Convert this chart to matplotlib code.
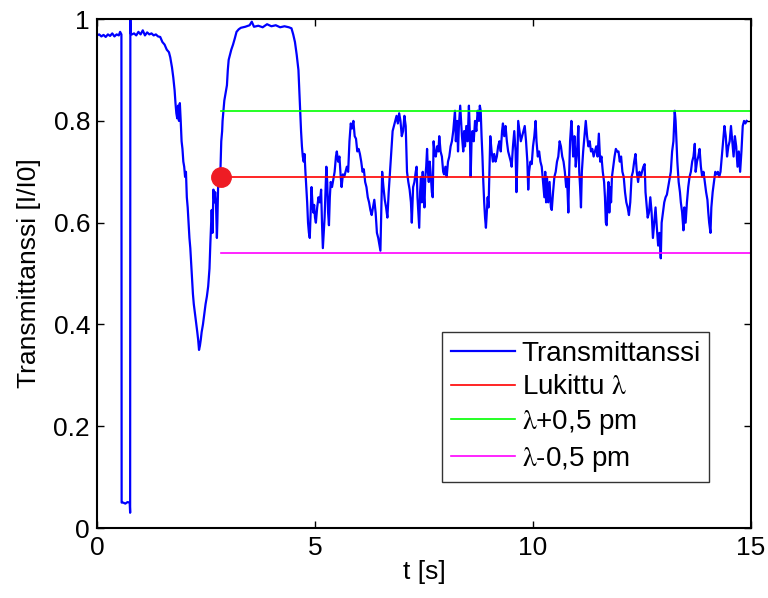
import matplotlib
matplotlib.use("Agg")
import matplotlib.pyplot as plt

plt.rcParams['font.family'] = ['Liberation Sans', 'DejaVu Sans']
plt.rcParams['mathtext.fontset'] = 'stix'

t_vals = [
    0.00, 0.05, 0.10, 0.15, 0.20, 0.25, 0.30, 0.35, 0.40, 0.45, 0.50, 0.53, 0.56,
    0.565, 0.60, 0.65, 0.70, 0.75, 0.76, 0.765, 0.77,
    0.80, 0.85, 0.90, 0.95, 1.00, 1.05, 1.10, 1.15, 1.20, 1.25, 1.30, 1.35, 1.40, 1.45,
    1.50, 1.55, 1.60, 1.65, 1.68, 1.72, 1.75, 1.78, 1.80, 1.82, 1.84, 1.86, 1.88, 1.90,
    1.92, 1.94, 1.96, 1.98, 2.00, 2.02, 2.04, 2.06, 2.08, 2.10, 2.12, 2.14, 2.16, 2.18,
    2.20, 2.22, 2.25, 2.28, 2.30, 2.32, 2.34, 2.36, 2.38, 2.40, 2.43, 2.46, 2.49, 2.52,
    2.55, 2.58, 2.60, 2.62, 2.63, 2.65, 2.67, 2.69, 2.71, 2.73, 2.75, 2.76, 2.78, 2.80,
    2.83, 2.85, 2.87, 2.88, 2.90, 2.92, 2.94, 2.96, 2.98, 3.00, 3.02, 3.05, 3.08, 3.12,
    3.16, 3.20, 3.25, 3.30, 3.40, 3.50, 3.55, 3.60, 3.70, 3.80, 3.90, 4.00, 4.10, 4.20,
    4.30, 4.40, 4.46, 4.50, 4.54, 4.58, 4.62, 4.64, 4.66, 4.68, 4.70, 4.72, 4.74, 4.76,
    4.78, 4.80, 4.82, 4.84, 4.86, 4.88, 4.90, 4.92, 4.94, 4.96, 4.98, 5.00, 5.02, 5.05,
    5.08, 5.11, 5.14, 5.16, 5.18, 5.20, 5.22, 5.24, 5.26, 5.28, 5.30, 5.32, 5.34, 5.36,
    5.39, 5.42, 5.45, 5.48, 5.50, 5.53, 5.56, 5.59, 5.61, 5.64, 5.67, 5.70, 5.73, 5.76,
    5.79, 5.82, 5.85, 5.88, 5.91, 5.94, 5.97, 6.00, 6.03, 6.06, 6.09, 6.12, 6.15, 6.18,
    6.21, 6.24, 6.27, 6.30, 6.33, 6.36, 6.39, 6.42, 6.45, 6.48, 6.50, 6.52, 6.54, 6.57,
    6.60, 6.63, 6.66, 6.69, 6.72, 6.75, 6.78, 6.81, 6.84, 6.87, 6.90, 6.93, 6.96, 6.99,
    7.02, 7.05, 7.08, 7.11, 7.14, 7.17, 7.20, 7.22, 7.25, 7.28, 7.31, 7.33, 7.35, 7.37,
    7.39, 7.41, 7.43, 7.45, 7.47, 7.49, 7.51, 7.53, 7.55, 7.57, 7.59, 7.61, 7.63, 7.65,
    7.68, 7.70, 7.72, 7.74, 7.77, 7.80, 7.83, 7.85, 7.88, 7.91, 7.94, 7.96, 7.99, 8.02,
    8.05, 8.08, 8.11, 8.14, 8.17, 8.19, 8.21, 8.23, 8.26, 8.28, 8.30, 8.33, 8.35, 8.37,
    8.40, 8.42, 8.44, 8.47, 8.50, 8.53, 8.55, 8.57, 8.59, 8.61, 8.64, 8.67, 8.70, 8.73,
    8.76, 8.78, 8.80, 8.82, 8.84, 8.86, 8.88, 8.90, 8.92, 8.94, 8.96, 8.98, 9.00, 9.02,
    9.05, 9.08, 9.11, 9.14, 9.17, 9.20, 9.23, 9.26, 9.29, 9.31, 9.34, 9.37, 9.40, 9.43,
    9.46, 9.49, 9.51, 9.54, 9.57, 9.60, 9.62, 9.64, 9.66, 9.69, 9.72, 9.75, 9.78, 9.81,
    9.84, 9.87, 9.89, 9.91, 9.94, 9.97, 10.00, 10.03, 10.06, 10.08, 10.11, 10.14, 10.17,
    10.20, 10.23, 10.26, 10.28, 10.30, 10.32, 10.35, 10.38, 10.41, 10.43, 10.46, 10.49,
    10.52, 10.55, 10.58, 10.61, 10.64, 10.67, 10.70, 10.73, 10.76, 10.78, 10.81, 10.83,
    10.85, 10.88, 10.90, 10.92, 10.95, 10.98, 11.01, 11.04, 11.06, 11.08, 11.10, 11.12,
    11.15, 11.18, 11.21, 11.24, 11.27, 11.30, 11.33, 11.36, 11.39, 11.42, 11.45, 11.48,
    11.51, 11.54, 11.57, 11.60, 11.63, 11.65, 11.67, 11.69, 11.71, 11.73, 11.75, 11.77,
    11.79, 11.81, 11.84, 11.87, 11.90, 11.93, 11.96, 11.99, 12.02, 12.05, 12.08, 12.11,
    12.14, 12.17, 12.20, 12.23, 12.26, 12.29, 12.32, 12.35, 12.38, 12.41, 12.44, 12.47,
    12.50, 12.53, 12.56, 12.58, 12.60, 12.63, 12.66, 12.69, 12.72, 12.75, 12.78, 12.81,
    12.84, 12.87, 12.90, 12.93, 12.95, 12.98, 13.01, 13.04, 13.07, 13.10, 13.13, 13.16,
    13.19, 13.22, 13.25, 13.27, 13.29, 13.31, 13.34, 13.37, 13.39, 13.42, 13.45, 13.47,
    13.50, 13.53, 13.56, 13.59, 13.62, 13.65, 13.68, 13.71, 13.73, 13.76, 13.79, 13.82,
    13.85, 13.88, 13.91, 13.94, 13.97, 14.00, 14.02, 14.04, 14.07, 14.09, 14.12, 14.15,
    14.18, 14.21, 14.24, 14.27, 14.30, 14.33, 14.36, 14.39, 14.42, 14.45, 14.48, 14.51,
    14.54, 14.57, 14.60, 14.63, 14.66, 14.69, 14.72, 14.75, 14.78, 14.81, 14.84, 14.87,
    14.90,
]
trans_vals = [
    0.968, 0.970, 0.966, 0.969, 0.965, 0.970, 0.967, 0.972, 0.966, 0.970, 0.968, 0.975, 0.970,
    0.050, 0.050, 0.048, 0.051, 0.050, 0.030, 1.000, 0.972,
    0.970, 0.972, 0.968, 0.975, 0.970, 0.978, 0.968, 0.974, 0.970, 0.972, 0.968, 0.970, 0.966, 0.965,
    0.955, 0.950, 0.940, 0.935, 0.925, 0.905, 0.885, 0.860, 0.835, 0.815, 0.805, 0.830, 0.800, 0.835,
    0.800, 0.760, 0.745, 0.720, 0.710, 0.690, 0.700, 0.650, 0.630, 0.600, 0.570, 0.550, 0.520, 0.490,
    0.460, 0.440, 0.420, 0.400, 0.385, 0.370, 0.350, 0.358, 0.370, 0.385, 0.400, 0.420, 0.440, 0.455,
    0.475, 0.510, 0.560, 0.600, 0.625, 0.580, 0.665, 0.640, 0.660, 0.635, 0.570, 0.600, 0.680, 0.700,
    0.700, 0.760, 0.780, 0.800, 0.820, 0.840, 0.850, 0.860, 0.870, 0.900, 0.920, 0.930, 0.940, 0.950,
    0.962, 0.975, 0.980, 0.983, 0.985, 0.988, 0.995, 0.985, 0.987, 0.984, 0.990, 0.986, 0.988, 0.984,
    0.986, 0.984, 0.982, 0.970, 0.955, 0.930, 0.900, 0.860, 0.820, 0.780, 0.750, 0.730, 0.720, 0.735,
    0.700, 0.670, 0.640, 0.600, 0.580, 0.570, 0.620, 0.670, 0.640, 0.620, 0.635, 0.610, 0.600, 0.630,
    0.650, 0.640, 0.665, 0.600, 0.550, 0.580, 0.610, 0.660, 0.710, 0.680, 0.620, 0.595, 0.650, 0.680,
    0.670, 0.685, 0.700, 0.730, 0.740, 0.720, 0.730, 0.690, 0.670, 0.695, 0.690, 0.700, 0.710, 0.700,
    0.760, 0.795, 0.785, 0.800, 0.770, 0.765, 0.740, 0.745, 0.735, 0.720, 0.700, 0.705, 0.680, 0.670,
    0.650, 0.640, 0.625, 0.615, 0.630, 0.645, 0.620, 0.580, 0.570, 0.555, 0.545, 0.620, 0.700, 0.670,
    0.645, 0.630, 0.610, 0.660, 0.700, 0.740, 0.780, 0.790, 0.800, 0.810, 0.795, 0.815, 0.800, 0.770,
    0.780, 0.810, 0.790, 0.700, 0.680, 0.665, 0.640, 0.600, 0.670, 0.680, 0.700, 0.710, 0.650, 0.620,
    0.590, 0.660, 0.690, 0.640, 0.700, 0.660, 0.630, 0.690, 0.710, 0.745, 0.700, 0.680, 0.720, 0.700,
    0.660, 0.650, 0.760, 0.740, 0.730, 0.750, 0.740, 0.770, 0.740, 0.730, 0.700, 0.695, 0.710, 0.690,
    0.720, 0.730, 0.750, 0.760, 0.780, 0.800, 0.820, 0.760, 0.800, 0.740, 0.790, 0.830, 0.800, 0.770,
    0.740, 0.780, 0.750, 0.790, 0.760, 0.830, 0.780, 0.690, 0.760, 0.780, 0.760, 0.800, 0.780, 0.820,
    0.800, 0.830, 0.820, 0.770, 0.730, 0.680, 0.640, 0.610, 0.590, 0.620, 0.650, 0.630, 0.700, 0.770,
    0.740, 0.720, 0.735, 0.720, 0.730, 0.750, 0.760, 0.740, 0.780, 0.795, 0.770, 0.790, 0.760, 0.740,
    0.730, 0.720, 0.710, 0.750, 0.780, 0.740, 0.660, 0.720, 0.800, 0.780, 0.760, 0.770, 0.780, 0.790,
    0.760, 0.720, 0.665, 0.700, 0.720, 0.715, 0.750, 0.770, 0.800, 0.760, 0.730, 0.740, 0.720,
    0.710, 0.680, 0.650, 0.700, 0.640, 0.690, 0.640, 0.680, 0.630, 0.625, 0.660, 0.690,
    0.700, 0.720, 0.730, 0.760, 0.750, 0.730, 0.720, 0.700, 0.670, 0.690, 0.620, 0.700,
    0.760, 0.800, 0.770, 0.730, 0.770, 0.710, 0.740, 0.790, 0.700, 0.670, 0.630, 0.700,
    0.740, 0.770, 0.800, 0.770, 0.750, 0.760, 0.740, 0.745, 0.730, 0.740, 0.750, 0.730,
    0.775, 0.720, 0.730, 0.700, 0.680, 0.650, 0.600, 0.595, 0.650, 0.680, 0.620, 0.670,
    0.640, 0.690, 0.710, 0.730, 0.745, 0.740, 0.740, 0.720, 0.730, 0.700, 0.690, 0.660,
    0.640, 0.630, 0.615, 0.640, 0.690, 0.700, 0.720, 0.735, 0.700, 0.680, 0.700, 0.690,
    0.700, 0.710, 0.715, 0.660, 0.640, 0.610, 0.620, 0.650, 0.620, 0.570, 0.600, 0.630,
    0.590, 0.555, 0.580, 0.530, 0.600, 0.620, 0.640, 0.650, 0.655, 0.670, 0.685, 0.700,
    0.740, 0.760, 0.820, 0.800, 0.760, 0.720, 0.680, 0.660, 0.640, 0.620, 0.585, 0.630,
    0.600, 0.640, 0.670, 0.690, 0.700, 0.720, 0.730, 0.755, 0.700, 0.720, 0.730, 0.745,
    0.710, 0.690, 0.700, 0.680, 0.660, 0.645, 0.620, 0.600, 0.580, 0.630, 0.660, 0.680,
    0.700, 0.695, 0.700, 0.690, 0.700, 0.730, 0.760, 0.790, 0.770, 0.730, 0.750, 0.760,
    0.790, 0.760, 0.730, 0.770, 0.750, 0.710, 0.740, 0.700, 0.740, 0.790, 0.800, 0.795,
    0.800,
]

# locked wavelength and +/- 0.5 pm levels
lock_t = [2.84, 15.0]
lock_level = 0.69
upper_level = 0.82
lower_level = 0.54
lock_point = (2.84, 0.69)


def main():
    fig = plt.figure(figsize=(7.68, 5.98), dpi=100)
    ax = fig.add_axes([0.1263, 0.117, 0.8516, 0.851])

    ax.plot(t_vals, trans_vals, color='#0000ff', lw=1.6, label='Transmittanssi')
    ax.plot(lock_t, [lock_level] * 2, color='#ff0000', lw=1.2, label=r'Lukittu $\mathrm{\lambda}$')
    ax.plot(lock_t, [upper_level] * 2, color='#00ff00', lw=1.2, label=r'$\mathrm{\lambda}$+0,5 pm')
    ax.plot(lock_t, [lower_level] * 2, color='#ff00ff', lw=1.2, label=r'$\mathrm{\lambda}$-0,5 pm')
    ax.plot([lock_point[0]], [lock_point[1]], 'o', color='#ee1c24', ms=14, zorder=5)

    ax.set_xlim(0, 15)
    ax.set_ylim(0, 1)
    ax.set_xticks([0, 5, 10, 15])
    ax.set_yticks([0, 0.2, 0.4, 0.6, 0.8, 1])
    ax.set_yticklabels(['0', '0.2', '0.4', '0.6', '0.8', '1'])
    ax.tick_params(direction='in', top=True, right=True, length=5, width=1, labelsize=19)
    ax.tick_params(axis='x', pad=6)
    ax.tick_params(axis='y', pad=5)
    for s in ax.spines.values():
        s.set_linewidth(1.5)

    ax.set_xlabel('t [s]', fontsize=19, labelpad=0)
    ax.set_ylabel('Transmittanssi [I/I0]', fontsize=19, labelpad=9)

    leg = ax.legend(loc='lower right', bbox_to_anchor=(0.936, 0.09), borderaxespad=0,
                    fontsize=20, fancybox=False, edgecolor='#333333', framealpha=1,
                    handlelength=2.3, handletextpad=0.25, labelspacing=0.28,
                    borderpad=0.3)
    leg.get_frame().set_linewidth(1)

    fig.savefig('out.png', dpi=100)


if __name__ == '__main__':
    main()
